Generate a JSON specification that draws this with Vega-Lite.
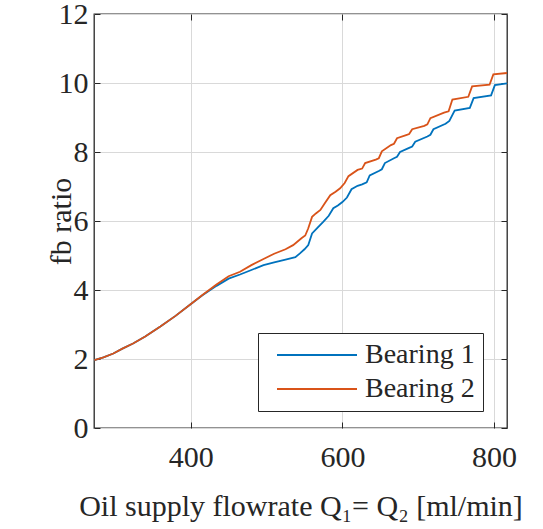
{
  "$schema": "https://vega.github.io/schema/vega-lite/v6.json",
  "width": 413,
  "height": 414,
  "autosize": "none",
  "padding": {"left": 94, "top": 14, "right": 36, "bottom": 101},
  "background": "white",
  "config": {
    "view": {"stroke": "#262626", "strokeWidth": 1.3},
    "font": "Liberation Serif",
    "axis": {
      "domain": false,
      "gridColor": "#d9d9d9",
      "gridWidth": 1,
      "tickColor": "#262626",
      "tickSize": -6,
      "tickWidth": 1,
      "labelFont": "Liberation Serif",
      "labelFontSize": 30,
      "labelColor": "#262626",
      "titleFont": "Liberation Serif",
      "titleFontSize": 30,
      "titleFontWeight": "normal",
      "titleColor": "#262626"
    },
    "legend": {
      "orient": "none",
      "legendX": 164,
      "legendY": 319,
      "strokeColor": "#262626",
      "fillColor": "white",
      "padding": 8,
      "symbolType": "M-0.375,0H9.625",
      "symbolSize": 256,
      "symbolStrokeWidth": 2,
      "labelFont": "Liberation Serif",
      "labelFontSize": 28,
      "labelColor": "#262626",
      "labelOffset": 71,
      "rowPadding": 6
    }
  },
  "data": {
    "values": [
      {"q": 273, "r": 1.97, "s": "Bearing 1"},
      {"q": 285, "r": 2.05, "s": "Bearing 1"},
      {"q": 298, "r": 2.16, "s": "Bearing 1"},
      {"q": 310, "r": 2.30, "s": "Bearing 1"},
      {"q": 324, "r": 2.45, "s": "Bearing 1"},
      {"q": 340, "r": 2.65, "s": "Bearing 1"},
      {"q": 360, "r": 2.94, "s": "Bearing 1"},
      {"q": 380, "r": 3.25, "s": "Bearing 1"},
      {"q": 399, "r": 3.57, "s": "Bearing 1"},
      {"q": 415, "r": 3.84, "s": "Bearing 1"},
      {"q": 434, "r": 4.12, "s": "Bearing 1"},
      {"q": 450, "r": 4.33, "s": "Bearing 1"},
      {"q": 465, "r": 4.45, "s": "Bearing 1"},
      {"q": 480, "r": 4.58, "s": "Bearing 1"},
      {"q": 496, "r": 4.72, "s": "Bearing 1"},
      {"q": 510, "r": 4.80, "s": "Bearing 1"},
      {"q": 525, "r": 4.88, "s": "Bearing 1"},
      {"q": 538, "r": 4.95, "s": "Bearing 1"},
      {"q": 544, "r": 5.06, "s": "Bearing 1"},
      {"q": 550, "r": 5.18, "s": "Bearing 1"},
      {"q": 555, "r": 5.30, "s": "Bearing 1"},
      {"q": 560, "r": 5.64, "s": "Bearing 1"},
      {"q": 567, "r": 5.80, "s": "Bearing 1"},
      {"q": 575, "r": 5.98, "s": "Bearing 1"},
      {"q": 582, "r": 6.15, "s": "Bearing 1"},
      {"q": 588, "r": 6.37, "s": "Bearing 1"},
      {"q": 594, "r": 6.45, "s": "Bearing 1"},
      {"q": 600, "r": 6.55, "s": "Bearing 1"},
      {"q": 606, "r": 6.68, "s": "Bearing 1"},
      {"q": 612, "r": 6.92, "s": "Bearing 1"},
      {"q": 620, "r": 7.02, "s": "Bearing 1"},
      {"q": 626, "r": 7.06, "s": "Bearing 1"},
      {"q": 632, "r": 7.12, "s": "Bearing 1"},
      {"q": 636, "r": 7.32, "s": "Bearing 1"},
      {"q": 648, "r": 7.45, "s": "Bearing 1"},
      {"q": 652, "r": 7.50, "s": "Bearing 1"},
      {"q": 656, "r": 7.68, "s": "Bearing 1"},
      {"q": 668, "r": 7.82, "s": "Bearing 1"},
      {"q": 672, "r": 7.86, "s": "Bearing 1"},
      {"q": 676, "r": 8.00, "s": "Bearing 1"},
      {"q": 688, "r": 8.12, "s": "Bearing 1"},
      {"q": 692, "r": 8.16, "s": "Bearing 1"},
      {"q": 696, "r": 8.30, "s": "Bearing 1"},
      {"q": 712, "r": 8.45, "s": "Bearing 1"},
      {"q": 716, "r": 8.50, "s": "Bearing 1"},
      {"q": 720, "r": 8.66, "s": "Bearing 1"},
      {"q": 736, "r": 8.82, "s": "Bearing 1"},
      {"q": 741, "r": 8.90, "s": "Bearing 1"},
      {"q": 748, "r": 9.20, "s": "Bearing 1"},
      {"q": 768, "r": 9.28, "s": "Bearing 1"},
      {"q": 773, "r": 9.56, "s": "Bearing 1"},
      {"q": 796, "r": 9.64, "s": "Bearing 1"},
      {"q": 801, "r": 9.94, "s": "Bearing 1"},
      {"q": 817, "r": 9.99, "s": "Bearing 1"},
      {"q": 273, "r": 1.97, "s": "Bearing 2"},
      {"q": 285, "r": 2.05, "s": "Bearing 2"},
      {"q": 298, "r": 2.16, "s": "Bearing 2"},
      {"q": 310, "r": 2.30, "s": "Bearing 2"},
      {"q": 324, "r": 2.45, "s": "Bearing 2"},
      {"q": 340, "r": 2.65, "s": "Bearing 2"},
      {"q": 360, "r": 2.94, "s": "Bearing 2"},
      {"q": 380, "r": 3.25, "s": "Bearing 2"},
      {"q": 399, "r": 3.57, "s": "Bearing 2"},
      {"q": 415, "r": 3.85, "s": "Bearing 2"},
      {"q": 434, "r": 4.16, "s": "Bearing 2"},
      {"q": 450, "r": 4.40, "s": "Bearing 2"},
      {"q": 465, "r": 4.53, "s": "Bearing 2"},
      {"q": 480, "r": 4.72, "s": "Bearing 2"},
      {"q": 496, "r": 4.90, "s": "Bearing 2"},
      {"q": 510, "r": 5.05, "s": "Bearing 2"},
      {"q": 525, "r": 5.18, "s": "Bearing 2"},
      {"q": 535, "r": 5.30, "s": "Bearing 2"},
      {"q": 546, "r": 5.50, "s": "Bearing 2"},
      {"q": 551, "r": 5.58, "s": "Bearing 2"},
      {"q": 555, "r": 5.79, "s": "Bearing 2"},
      {"q": 560, "r": 6.12, "s": "Bearing 2"},
      {"q": 565, "r": 6.22, "s": "Bearing 2"},
      {"q": 571, "r": 6.32, "s": "Bearing 2"},
      {"q": 577, "r": 6.52, "s": "Bearing 2"},
      {"q": 584, "r": 6.75, "s": "Bearing 2"},
      {"q": 591, "r": 6.85, "s": "Bearing 2"},
      {"q": 597, "r": 6.95, "s": "Bearing 2"},
      {"q": 603, "r": 7.10, "s": "Bearing 2"},
      {"q": 608, "r": 7.30, "s": "Bearing 2"},
      {"q": 620, "r": 7.48, "s": "Bearing 2"},
      {"q": 626, "r": 7.52, "s": "Bearing 2"},
      {"q": 630, "r": 7.68, "s": "Bearing 2"},
      {"q": 644, "r": 7.78, "s": "Bearing 2"},
      {"q": 648, "r": 7.82, "s": "Bearing 2"},
      {"q": 652, "r": 8.02, "s": "Bearing 2"},
      {"q": 664, "r": 8.20, "s": "Bearing 2"},
      {"q": 668, "r": 8.24, "s": "Bearing 2"},
      {"q": 672, "r": 8.40, "s": "Bearing 2"},
      {"q": 684, "r": 8.49, "s": "Bearing 2"},
      {"q": 688, "r": 8.52, "s": "Bearing 2"},
      {"q": 692, "r": 8.66, "s": "Bearing 2"},
      {"q": 708, "r": 8.76, "s": "Bearing 2"},
      {"q": 712, "r": 8.80, "s": "Bearing 2"},
      {"q": 716, "r": 8.98, "s": "Bearing 2"},
      {"q": 734, "r": 9.14, "s": "Bearing 2"},
      {"q": 740, "r": 9.18, "s": "Bearing 2"},
      {"q": 745, "r": 9.52, "s": "Bearing 2"},
      {"q": 766, "r": 9.60, "s": "Bearing 2"},
      {"q": 771, "r": 9.90, "s": "Bearing 2"},
      {"q": 794, "r": 9.95, "s": "Bearing 2"},
      {"q": 799, "r": 10.25, "s": "Bearing 2"},
      {"q": 817, "r": 10.29, "s": "Bearing 2"}
    ]
  },
  "layer": [
    {
      "mark": {"type": "line", "opacity": 0},
      "encoding": {
        "x": {"field": "q", "type": "quantitative", "scale": {"domain": [272.5, 817]},
              "axis": {"orient": "top", "labels": false, "grid": false, "title": null, "values": [400, 600, 800]}},
        "y": {"field": "r", "type": "quantitative", "scale": {"domain": [0, 12]},
              "axis": {"orient": "right", "labels": false, "grid": false, "title": null, "values": [0, 2, 4, 6, 8, 10, 12]}},
        "detail": {"field": "s"}
      }
    },
    {
      "mark": {"type": "line", "strokeWidth": 1.8, "interpolate": "linear"},
      "encoding": {
        "x": {"field": "q", "type": "quantitative", "scale": {"domain": [272.5, 817]},
              "axis": {"orient": "bottom", "grid": true, "values": [400, 600, 800], "labelPadding": 20, "title": "Oil supply flowrate Q₁= Q₂ [ml/min]", "titlePadding": 19}},
        "y": {"field": "r", "type": "quantitative", "scale": {"domain": [0, 12]},
              "axis": {"orient": "left", "grid": true, "values": [0, 2, 4, 6, 8, 10, 12], "labelPadding": 12, "labelBaseline": "middle", "labelDy": 2, "title": "fb ratio", "titlePadding": -18}},
        "color": {"field": "s", "type": "nominal", "title": null,
                  "scale": {"domain": ["Bearing 1", "Bearing 2"], "range": ["#0072BD", "#D95319"]}}
      }
    }
  ],
  "resolve": {"axis": {"x": "independent", "y": "independent"}}
}
